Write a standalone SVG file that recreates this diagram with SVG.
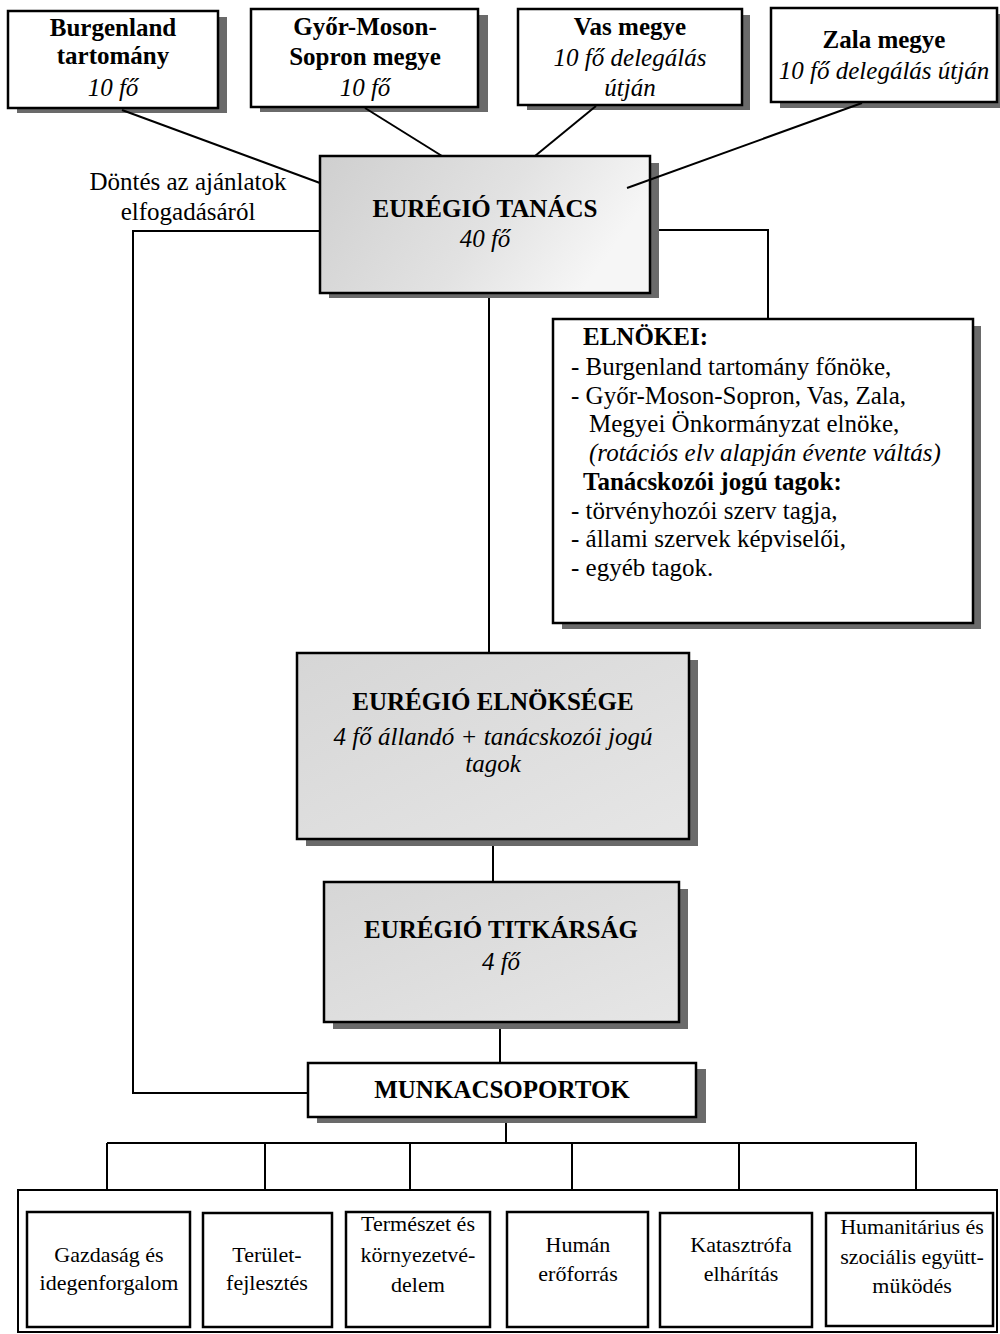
<svg xmlns="http://www.w3.org/2000/svg" width="1000" height="1334" viewBox="0 0 1000 1334">
<defs>
<linearGradient id="g1" x1="0" y1="0" x2="1" y2="0.3">
<stop offset="0" stop-color="#cfcfcf"/>
<stop offset="0.6" stop-color="#e2e2e2"/>
<stop offset="1" stop-color="#f6f6f6"/>
</linearGradient>
<linearGradient id="g2" x1="0" y1="0" x2="1" y2="1">
<stop offset="0" stop-color="#d6d6d6"/>
<stop offset="1" stop-color="#e6e6e6"/>
</linearGradient>
</defs>
<style>
.box{stroke:#000;stroke-width:2.5}
.w{fill:#fff}
.sh{fill:#6a6a6a}
.t{font-family:"Liberation Serif","Times New Roman",serif;font-size:25px;fill:#000}
.b{font-weight:bold}
.i{font-style:italic}
.s{font-size:22px}
.c{text-anchor:middle}
.ln{stroke:#000;stroke-width:2;fill:none}
</style>
<rect width="1000" height="1334" fill="#fff"/>

<g id="burgenland">
<rect class="sh" x="17" y="17" width="210" height="96"/>
<rect class="box w" x="8" y="11" width="210" height="97"/>
<text class="t b c" x="113" y="36">Burgenland</text>
<text class="t b c" x="113" y="64">tartomány</text>
<text class="t i c" x="113" y="96">10 fő</text>
</g>
<g id="gyor">
<rect class="sh" x="260" y="15" width="228" height="97"/>
<rect class="box w" x="251" y="9" width="227" height="98"/>
<text class="t b c" x="365" y="35">Győr-Moson-</text>
<text class="t b c" x="365" y="65">Sopron megye</text>
<text class="t i c" x="365" y="96">10 fő</text>
</g>
<g id="vas">
<rect class="sh" x="527" y="15" width="223" height="95"/>
<rect class="box w" x="518" y="9" width="224" height="96"/>
<text class="t b c" x="630" y="35">Vas megye</text>
<text class="t i c" x="630" y="66">10 fő delegálás</text>
<text class="t i c" x="630" y="96">útján</text>
</g>
<g id="zala">
<rect class="sh" x="780" y="14" width="220" height="94"/>
<rect class="box w" x="771" y="8" width="226" height="94"/>
<text class="t b c" x="884" y="48">Zala megye</text>
<text class="t i c" x="884" y="79">10 fő delegálás útján</text>
</g>

<g id="dontes-label">
<text class="t c" x="188" y="190">Döntés az ajánlatok</text>
<text class="t c" x="188" y="220">elfogadásáról</text>
</g>

<g id="tanacs">
<rect class="sh" x="329" y="163" width="330" height="135"/>
<rect class="box" fill="url(#g1)" x="320" y="156" width="330" height="137"/>
<text class="t b c" x="485" y="217">EURÉGIÓ TANÁCS</text>
<text class="t i c" x="485" y="247">40 fő</text>
</g>

<g id="elnokei">
<rect class="sh" x="562" y="326" width="419" height="303"/>
<rect class="box w" x="553" y="319" width="420" height="304"/>
<text class="t b" x="583" y="345">ELNÖKEI:</text>
<text class="t" x="571" y="375">- Burgenland tartomány főnöke,</text>
<text class="t" x="571" y="404">- Győr-Moson-Sopron, Vas, Zala,</text>
<text class="t" x="589" y="432">Megyei Önkormányzat elnöke,</text>
<text class="t i" x="589" y="461">(rotációs elv alapján évente váltás)</text>
<text class="t b" x="583" y="490">Tanácskozói jogú tagok:</text>
<text class="t" x="571" y="519">- törvényhozói szerv tagja,</text>
<text class="t" x="571" y="547">- állami szervek képviselői,</text>
<text class="t" x="571" y="576">- egyéb tagok.</text>
</g>

<g id="elnokseg">
<rect class="sh" x="306" y="660" width="392" height="186"/>
<rect class="box" fill="url(#g2)" x="297" y="653" width="392" height="186"/>
<text class="t b c" x="493" y="710">EURÉGIÓ ELNÖKSÉGE</text>
<text class="t i c" x="493" y="745">4 fő állandó + tanácskozói jogú</text>
<text class="t i c" x="493" y="772">tagok</text>
</g>

<g id="titkarsag">
<rect class="sh" x="333" y="889" width="355" height="140"/>
<rect class="box" fill="url(#g2)" x="324" y="882" width="355" height="140"/>
<text class="t b c" x="501" y="938">EURÉGIÓ TITKÁRSÁG</text>
<text class="t i c" x="501" y="970">4 fő</text>
</g>

<g id="munkacsoportok">
<rect class="sh" x="317" y="1069" width="389" height="54"/>
<rect class="box w" x="308" y="1063" width="388" height="54"/>
<text class="t b c" x="502" y="1098">MUNKACSOPORTOK</text>
</g>

<g id="container">
<rect x="18" y="1190" width="979" height="142" fill="#fff" stroke="#000" stroke-width="2"/>
</g>
<g id="wg1">
<rect class="box w" x="27" y="1212" width="163" height="115"/>
<text class="t s c" x="109" y="1262">Gazdaság és</text>
<text class="t s c" x="109" y="1290">idegenforgalom</text>
</g>
<g id="wg2">
<rect class="box w" x="203" y="1213" width="129" height="114"/>
<text class="t s c" x="267" y="1262">Terület-</text>
<text class="t s c" x="267" y="1290">fejlesztés</text>
</g>
<g id="wg3">
<rect class="box w" x="346" y="1212" width="144" height="115"/>
<text class="t s c" x="418" y="1231">Természet és</text>
<text class="t s c" x="418" y="1262">környezetvé-</text>
<text class="t s c" x="418" y="1292">delem</text>
</g>
<g id="wg4">
<rect class="box w" x="507" y="1212" width="141" height="115"/>
<text class="t s c" x="578" y="1252">Humán</text>
<text class="t s c" x="578" y="1281">erőforrás</text>
</g>
<g id="wg5">
<rect class="box w" x="660" y="1213" width="152" height="114"/>
<text class="t s c" x="741" y="1252">Katasztrófa</text>
<text class="t s c" x="741" y="1281">elhárítás</text>
</g>
<g id="wg6">
<rect class="box w" x="826" y="1213" width="167" height="113"/>
<text class="t s c" x="912" y="1234">Humanitárius és</text>
<text class="t s c" x="912" y="1264">szociális együtt-</text>
<text class="t s c" x="912" y="1293">müködés</text>
</g>

<g id="connectors">
<line class="ln" x1="122" y1="110" x2="320" y2="183"/>
<line class="ln" x1="365" y1="108" x2="442" y2="156"/>
<line class="ln" x1="596" y1="106" x2="535" y2="156"/>
<line class="ln" x1="862" y1="103" x2="627" y2="188"/>
<polyline class="ln" points="320,231 133,231 133,1093 308,1093"/>
<polyline class="ln" points="659,230 768,230 768,319"/>
<line class="ln" x1="489" y1="298" x2="489" y2="653"/>
<line class="ln" x1="493" y1="846" x2="493" y2="882"/>
<line class="ln" x1="500" y1="1029" x2="500" y2="1063"/>
<line class="ln" x1="506" y1="1123" x2="506" y2="1143"/>
<line class="ln" x1="107" y1="1143" x2="917" y2="1143"/>
<line class="ln" x1="107" y1="1143" x2="107" y2="1190"/>
<line class="ln" x1="265" y1="1143" x2="265" y2="1190"/>
<line class="ln" x1="410" y1="1143" x2="410" y2="1190"/>
<line class="ln" x1="572" y1="1143" x2="572" y2="1190"/>
<line class="ln" x1="739" y1="1143" x2="739" y2="1190"/>
<line class="ln" x1="916" y1="1143" x2="916" y2="1190"/>
</g>
</svg>
